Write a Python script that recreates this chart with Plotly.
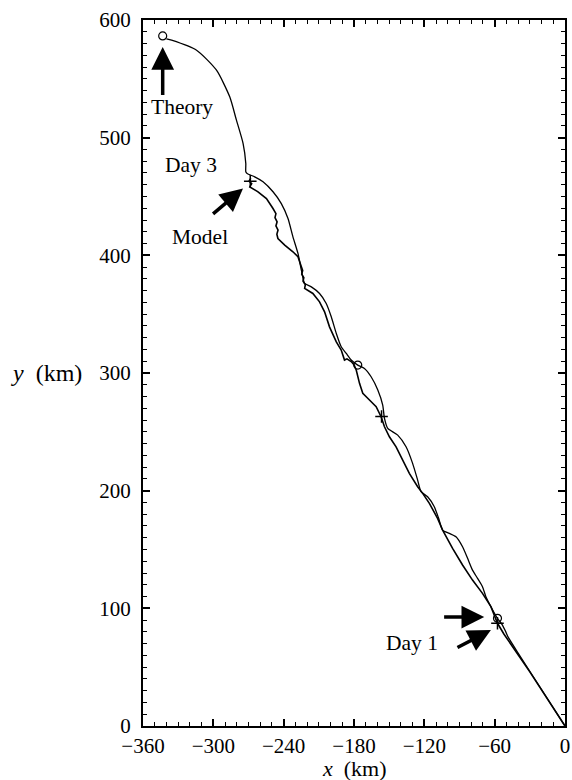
import plotly.graph_objects as go

# Theory trajectory (km), from origin to end
theory_x = [0, -20, -40, -48.5, -50.5, -53.5, -57.6, -63.2, -67.5, -70.4, -74.6, -78.9, -83.1, -87.4, -93, -98.7,
            -104.4, -107.8, -111.5, -117.2, -122.8, -125.7, -130, -135.6, -142.7, -151.2, -154, -155.5, -159.7,
            -165.4, -171.1, -176.8, -182.4, -186.6, -190.9, -195.1, -199.4, -203.7, -209.4, -216.4, -222.1,
            -224.9, -227.8, -232.1, -236.3, -242, -249.1, -257.6, -264.7, -271.2, -272.3, -272.3, -274.6,
            -280.3, -286, -297.3, -314.3, -335.6, -340]
theory_y = [0, 31, 62, 75.5, 80, 86, 91.5, 101.4, 109.9, 118.4, 125.5, 132.5, 142.5, 152.3, 160.8, 163.7,
            166.5, 176.5, 186.3, 194.8, 199.1, 209, 223.2, 237.3, 247.2, 252.9, 261.4, 272.7, 285.5,
            296.8, 303.9, 306.7, 311, 316.6, 322.3, 333.6, 347.8, 359.1, 367.6, 373.2, 376.1,
            387.4, 401.6, 415.7, 431.3, 444, 454, 462.5, 466.7, 469.5, 471, 478, 495,
            514.9, 534.7, 557.3, 574.3, 582.8, 584]

# Model trajectory (km)
model_x = [0, -30, -52, -55, -57.6, -63.2, -70.4, -78.9, -87.4, -95.9, -104.4, -108.7, -115.7, -121.4, -125.7, -132.8,
           -138.5, -144.1, -149.8, -154, -156.9, -161.1, -166.8, -172.5, -175.3, -178.1, -180, -182.4, -186,
           -188.1, -190.9, -195.1, -200.9, -205.1, -209.4, -215.1, -222.1, -221.5, -223.5, -222.8, -224.6,
           -223.8, -224.9, -227.8, -232.1, -239.1, -244.9, -245.8, -244.8, -246.6, -245.6, -247.4, -246.6,
           -248.3, -249.1, -254.7, -261.9, -268.9, -267.3, -269.5, -268]
model_y = [0, 46, 78, 83.5, 87.3, 101.4, 112.7, 124, 136.8, 151, 166.5, 176.5, 189.2, 197.7, 203.3, 214.7,
           226, 237.3, 245.8, 254.3, 262.8, 271.3, 277, 282.7, 291.2, 302.5, 307, 309.7, 312,
           311, 319.5, 326.5, 339.2, 352, 360.5, 367.6, 371.9, 375, 378, 381, 384,
           387, 390.2, 398.8, 403, 408.7, 414.3, 418, 421.5, 425, 428.5, 432, 435.5,
           438.5, 439.8, 448.3, 454, 458.2, 461, 463, 465.5]

# Day markers
theory_mark_x = [-57.6, -176.8, -343.2]
theory_mark_y = [91.5, 306.7, 586.5]
model_mark_x = [-57.6, -156.5, -268.5]
model_mark_y = [87.3, 263.0, 463.0]

x_ticks = [-360, -300, -240, -180, -120, -60, 0]
x_tick_text = ["\u2212360", "\u2212300", "\u2212240", "\u2212180", "\u2212120", "\u221260", "0"]
y_ticks = [0, 100, 200, 300, 400, 500, 600]

# Labels: (text, x, y)
labels = [("Theory", -326.8, 526), ("Day 3", -319.3, 476.6), ("Model", -311.1, 415.7), ("Day 1", -130.6, 70.3)]
# Arrows: (head_x, head_y, tail_x, tail_y)
arrows = [(-343.2, 577, -343.2, 535), (-274.7, 456.8, -301.5, 434.2),
          (-68.9, 92.6, -104.4, 92.6), (-63.2, 81.5, -93.0, 66.0)]

FONT = "Liberation Serif"

fig = go.Figure()
fig.add_trace(go.Scatter(x=theory_x, y=theory_y, mode="lines", line=dict(color="black", width=1.3, shape="spline", smoothing=0.6),
                         showlegend=False, hoverinfo="skip"))
fig.add_trace(go.Scatter(x=model_x, y=model_y, mode="lines", line=dict(color="black", width=1.6),
                         showlegend=False, hoverinfo="skip"))
fig.add_trace(go.Scatter(x=theory_mark_x, y=theory_mark_y, mode="markers",
                         marker=dict(symbol="circle-open", size=8, color="black", line=dict(width=1.2)),
                         showlegend=False, hoverinfo="skip"))
fig.add_trace(go.Scatter(x=model_mark_x, y=model_mark_y, mode="markers",
                         marker=dict(symbol="cross-thin-open", size=9, color="black", line=dict(width=1.5)),
                         showlegend=False, hoverinfo="skip"))
# trace anchoring the mirrored (top/right) tick axes
fig.add_trace(go.Scatter(x=[x_ticks[0], x_ticks[-1]], y=[y_ticks[0], y_ticks[-1]], xaxis="x2", yaxis="y2",
                         mode="markers", marker=dict(size=1, color="white"), showlegend=False, hoverinfo="skip"))

for t, x, y in labels:
    fig.add_annotation(x=x, y=y, text=t, showarrow=False, font=dict(family=FONT, size=21.5, color="black"))
for hx, hy, tx, ty in arrows:
    fig.add_annotation(x=hx, y=hy, ax=tx, ay=ty, xref="x", yref="y", axref="x", ayref="y", text="",
                       showarrow=True, arrowhead=2, arrowsize=1.3, arrowwidth=3.5, arrowcolor="black", standoff=0)

fig.add_annotation(x=-0.228, y=0.5, xref="paper", yref="paper", text="<i>y</i>\u00a0 (km)", showarrow=False,
                   font=dict(family=FONT, size=24, color="black"), xanchor="center", yanchor="middle")
fig.add_annotation(x=0.5, y=-0.06, xref="paper", yref="paper", text="<i>x</i>\u00a0 (km)", showarrow=False,
                   font=dict(family=FONT, size=22, color="black"), xanchor="center", yanchor="middle")

def ticks(color):
    return dict(showgrid=False, zeroline=False, ticks="inside", ticklen=7, tickwidth=1.5, tickcolor=color,
                automargin=False,
                minor=dict(ticks="inside", ticklen=4, tickwidth=1.2, tickcolor=color, dtick=10, showgrid=False))

fig.update_layout(
    width=572, height=780, margin=dict(l=143, r=7, t=20, b=54),
    plot_bgcolor="white", paper_bgcolor="white", font=dict(family=FONT, color="black"),
    xaxis=dict(range=[-360, 0], tickvals=x_ticks, ticktext=x_tick_text, showline=True, linecolor="black",
               linewidth=2, mirror=True, tickfont=dict(family=FONT, size=21, color="black"), **ticks("black")),
    yaxis=dict(range=[0, 600], tickvals=y_ticks, showline=True, linecolor="black", linewidth=2, mirror=True,
               ticklabelstandoff=6, tickfont=dict(family=FONT, size=21, color="black"), **ticks("black")),
    xaxis2=dict(range=[-360, 0], tickvals=x_ticks, overlaying="x", side="top", anchor="y2", showline=False,
                showticklabels=False, **ticks("black")),
    yaxis2=dict(range=[0, 600], tickvals=y_ticks, overlaying="y", side="right", anchor="x2", showline=False,
                showticklabels=False, **ticks("black")),
)

fig.write_html("out.html", config={"displayModeBar": False},
               post_script="document.body.style.margin='0';document.body.style.overflow='hidden';")
